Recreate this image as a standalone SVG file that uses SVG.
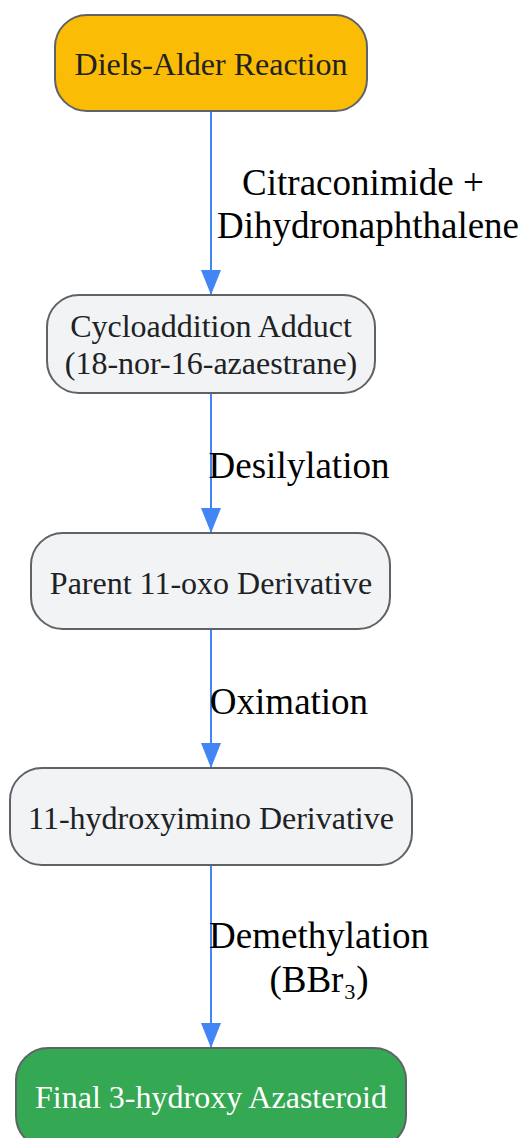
<svg xmlns="http://www.w3.org/2000/svg" width="522" height="1138" viewBox="0 0 522 1138">
<style>
.n rect{stroke:#5f6368;stroke-width:2}
.n text{font-family:"Liberation Serif",serif;font-size:32px;fill:#202124;text-anchor:middle}
.e path{stroke:#4285F4;stroke-width:2;fill:none}
.e text{font-family:"Liberation Serif",serif;font-size:37px;fill:#000;text-anchor:middle}
</style>
<defs>
<marker id="ah" viewBox="0 0 20 25" refX="20" refY="12.5" markerWidth="20" markerHeight="25" markerUnits="userSpaceOnUse" orient="auto">
<path d="M0,12.5 L0,0 L20,12.5 L0,25 Z" fill="#4285F4" transform="rotate(0)"/>
</marker>
<marker id="ah2" viewBox="0 0 20 25" refX="10" refY="25" markerWidth="20" markerHeight="25" markerUnits="userSpaceOnUse" orient="0">
<path d="M0,0 L20,0 L10,25 Z" fill="#4285F4"/>
</marker>
</defs>
<g id="connectors" class="e">
<path d="M211,111 V295" marker-end="url(#ah2)"/>
<path d="M211,393 V533" marker-end="url(#ah2)"/>
<path d="M211,629 V768" marker-end="url(#ah2)"/>
<path d="M211,865 V1048" marker-end="url(#ah2)"/>
<text x="363" y="195">Citraconimide +</text>
<text x="368" y="238">Dihydronaphthalene</text>
<text x="299" y="478">Desilylation</text>
<text x="289" y="714">Oximation</text>
<text x="319" y="948">Demethylation</text>
<text x="319" y="992">(BBr₃)</text>
</g>
<g id="n1" class="n">
<rect x="55" y="15" width="312" height="96" rx="32" fill="#FBBC05"/>
<text x="211" y="75">Diels-Alder Reaction</text>
</g>
<g id="n2" class="n">
<rect x="47" y="295" width="328" height="98" rx="32" fill="#F1F3F4"/>
<text x="211" y="337">Cycloaddition Adduct</text>
<text x="211" y="374">(18-nor-16-azaestrane)</text>
</g>
<g id="n3" class="n">
<rect x="31" y="533" width="359" height="96" rx="32" fill="#F1F3F4"/>
<text x="211" y="594">Parent 11-oxo Derivative</text>
</g>
<g id="n4" class="n">
<rect x="10" y="768" width="402" height="97" rx="32" fill="#F1F3F4"/>
<text x="211" y="829">11-hydroxyimino Derivative</text>
</g>
<g id="n5" class="n">
<rect x="16" y="1048" width="390" height="100" rx="32" fill="#34A853"/>
<text x="211" y="1108" style="fill:#fff">Final 3-hydroxy Azasteroid</text>
</g>
</svg>
